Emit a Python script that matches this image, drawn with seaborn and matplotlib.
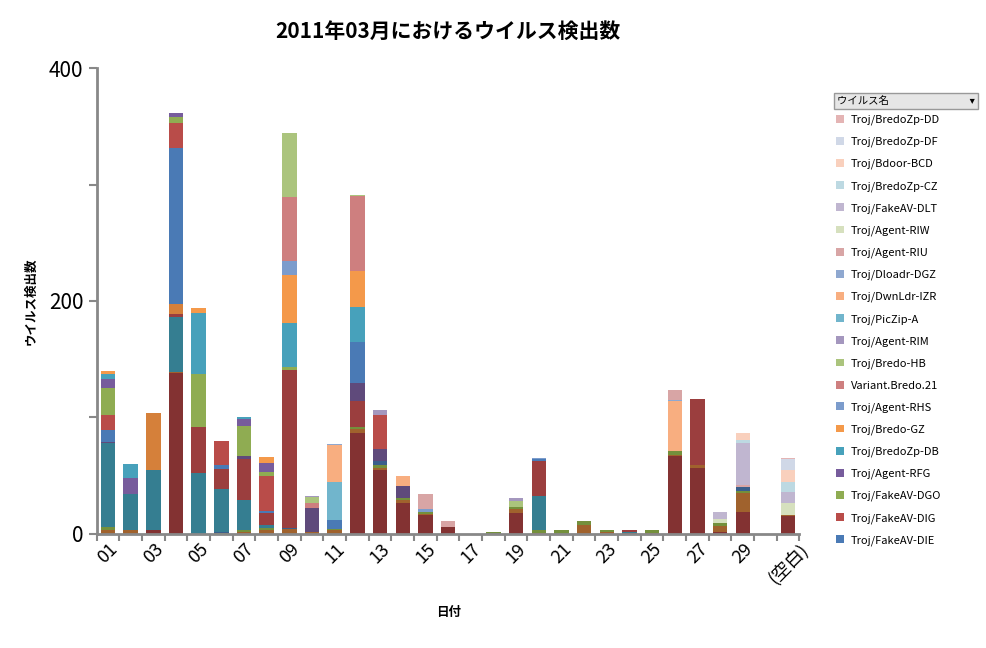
import matplotlib
matplotlib.use("Agg")
import matplotlib.pyplot as plt
import seaborn as sns
import pandas as pd
from matplotlib.patches import Patch

plt.rcParams["font.family"] = ["Noto Sans CJK JP", "DejaVu Sans"]

days = [f"{d:02d}" for d in range(1, 31)] + ["(空白)"]

# stack order bottom -> top: (name, color, {day_index: value})
series = [
    ("Troj/Bredo-XA", "#833232", {3:3, 4:138, 12:87, 13:55, 14:27, 15:16, 16:6, 19:18, 24:1, 26:67, 27:57, 28:2, 29:19, 31:15}),
    ("Troj/Bredo-XB", "#A0622D", {1:3, 2:3, 4:1, 7:2, 8:3, 9:4, 10:2, 11:3, 12:3, 13:2, 14:2, 15:1, 19:3, 20:1, 22:8, 23:2, 25:1, 26:1, 27:2, 28:5, 29:16, 31:1}),
    ("Troj/Bredo-XC", "#74903C", {1:3, 6:1, 7:1, 8:2, 11:1, 12:2, 13:2, 14:2, 15:2, 18:2, 19:2, 20:2, 21:3, 22:3, 23:1, 25:2, 26:3, 28:2, 29:2}),
    ("Troj/Bredo-XD", "#3A5F8C", {6:1, 9:1, 13:4, 29:3}),
    ("Troj/Bredo-XE", "#357E91", {1:72, 2:31, 3:52, 4:47, 5:52, 6:37, 7:26, 8:3, 20:30, 24:1}),
    ("Troj/Bredo-XF", "#9B3E3E", {4:3, 5:40, 6:17, 7:35, 8:10, 9:136, 12:22, 20:30, 24:1.5, 27:57}),
    ("Troj/Bredo-XG", "#5F4A7B", {1:1, 7:3, 10:20, 12:16, 13:10, 14:10}),
    ("Troj/Bredo-XH", "#D5803A", {3:49, 4:8}),
    ("Troj/FakeAV-DIE", "#4A7AB5", {1:10, 4:134, 6:3, 8:2, 11:8, 12:35, 20:1}),
    ("Troj/FakeAV-DIG", "#B94C49", {1:13, 4:22, 6:21, 8:30, 13:29}),
    ("Troj/FakeAV-DGO", "#8FAC52", {1:23, 4:5, 5:45, 7:26, 8:3, 9:2}),
    ("Troj/Agent-RFG", "#775C9C", {1:8, 2:14, 4:3, 7:6, 8:8}),
    ("Troj/BredoZp-DB", "#47A1BB", {1:4, 2:12, 5:53, 7:1, 9:38, 12:30}),
    ("Troj/Bredo-GZ", "#F4994A", {1:3, 5:4, 8:5, 9:41, 12:31}),
    ("Troj/Agent-RHS", "#7C9CCC", {9:12, 15:2, 20:1}),
    ("Variant.Bredo.21", "#CE7F7F", {9:55, 10:5, 12:64}),
    ("Troj/Bredo-HB", "#ABC47D", {9:55, 10:5, 12:1, 19:5}),
    ("Troj/Agent-RIM", "#A497BE", {10:1, 13:4, 19:3}),
    ("Troj/PicZip-A", "#71B5CC", {11:33}),
    ("Troj/DwnLdr-IZR", "#F8AE80", {11:31, 14:9, 26:43}),
    ("Troj/Dloadr-DGZ", "#8FA8D0", {11:1, 26:1}),
    ("Troj/Agent-RIU", "#D8A5A5", {15:13, 16:5, 26:9, 29:2}),
    ("Troj/Agent-RIW", "#D6E0BE", {28:4, 31:11}),
    ("Troj/FakeAV-DLT", "#C0B6D0", {28:6, 29:36, 31:9}),
    ("Troj/BredoZp-CZ", "#BDD9E2", {29:3, 31:9}),
    ("Troj/Bdoor-BCD", "#F9D0BD", {29:6, 31:10}),
    ("Troj/BredoZp-DF", "#D0D8E7", {31:9}),
    ("Troj/BredoZp-DD", "#E4B4B4", {31:1}),
]
legend_names = [s[0] for s in series[8:]]

rows = []
for name, color, vals in series:
    for d, v in vals.items():
        rows.append({"day": d - 1, "series": name, "value": v})
df = pd.DataFrame(rows)
names = [s[0] for s in series]
palette = {s[0]: s[1] for s in series}

fig = plt.figure(figsize=(9.87, 6.48), dpi=100)
ax = fig.add_axes([0.098, 0.176, 0.712, 0.719])

sns.histplot(data=df, x="day", weights="value", hue="series", hue_order=names[::-1],
             multiple="stack", discrete=True, shrink=0.64, palette=palette,
             element="bars", linewidth=0, alpha=1, legend=False, ax=ax)

ax.set_xlim(-0.5, 30.5)
ax.set_ylim(0, 400)
ax.set_yticks([0, 100, 200, 300, 400])
ax.set_yticklabels(["0", "", "200", "", "400"], fontsize=15)
ax.set_xticks(range(0, 31, 2))
ax.set_xticklabels([days[i] for i in range(0, 31, 2)], rotation=45, fontsize=13)
ax.set_xticks([i + 0.5 for i in range(-1, 31)], minor=True)
ax.tick_params(axis="x", which="major", length=0, pad=4)
ax.tick_params(axis="x", which="minor", length=5, color="#888888", width=1.5, direction="out")
ax.tick_params(axis="y", length=6, color="#888888", width=1.5, direction="out")
for s in ["top", "right"]:
    ax.spines[s].set_visible(False)
for s in ["left", "bottom"]:
    ax.spines[s].set_color("#888888")
    ax.spines[s].set_linewidth(2)
ax.set_xlabel("日付", fontsize=9, fontweight="bold", labelpad=14)
ax.set_ylabel("ウイルス検出数", fontsize=9, fontweight="bold", labelpad=8)
ax.set_title("2011年03月におけるウイルス検出数", fontsize=15, fontweight="bold", pad=22)

handles = [Patch(facecolor=palette[n], edgecolor="none") for n in legend_names[::-1]]
fig.legend(handles, legend_names[::-1], loc="upper left", bbox_to_anchor=(0.843, 0.83),
           frameon=False, fontsize=8, handlelength=0.7, handleheight=0.7,
           labelspacing=1.05, handletextpad=0.6, borderaxespad=0)
fig.text(0.848, 0.840, "ウイルス名" + " " * 34 + "▾", fontsize=7.5,
         bbox=dict(boxstyle="square,pad=0.3", facecolor="#E6E6E6", edgecolor="#999999"))

fig.savefig("out.png", dpi=100)
